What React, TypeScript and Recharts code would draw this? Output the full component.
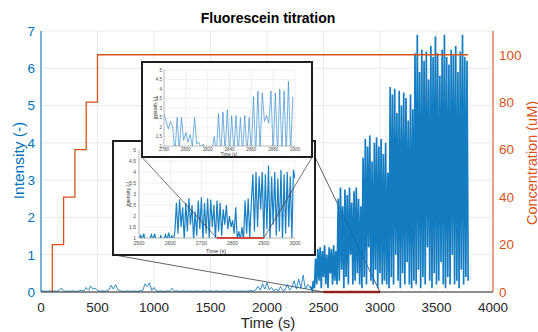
import React from 'react';
import { ComposedChart, LineChart, Line, XAxis, YAxis, CartesianGrid, ReferenceLine } from 'recharts';

const FONT = '"Liberation Sans", Arial, Helvetica, sans-serif';
const BLUE = '#0072BD';
const ORANGE = '#D95319';
const RED = '#E3261C';

// baseline before the dye arrives, one reading every 20 s from 0 s
const quietStart = 0;
const quietStep = 20;
const quietIntensity = [
  0.02, 0.03, 0.02, 0.02, 0.03,
  0.02, 0.03, 0.02, 0.04, 0.10,
  0.02, 0.03, 0.02, 0.02, 0.03,
  0.02, 0.02, 0.03, 0.05, 0.03,
  0.12, 0.05, 0.16, 0.08, 0.10,
  0.04, 0.02, 0.03, 0.02, 0.03,
  0.05, 0.18, 0.08, 0.20, 0.06,
  0.03, 0.02, 0.02, 0.03, 0.02,
  0.02, 0.03, 0.02, 0.02, 0.04,
  0.03, 0.22, 0.15, 0.25, 0.04,
  0.12, 0.03, 0.02, 0.03, 0.02,
  0.02, 0.03, 0.02, 0.10, 0.02,
  0.03, 0.02, 0.02, 0.03, 0.02,
  0.02, 0.03, 0.02, 0.02, 0.03,
  0.02, 0.02, 0.03, 0.02, 0.02,
  0.03, 0.02, 0.02, 0.03, 0.02,
  0.02, 0.03, 0.02, 0.02, 0.03,
  0.02, 0.03, 0.02, 0.02, 0.03,
  0.02, 0.02, 0.03, 0.04, 0.02,
  0.06, 0.15, 0.05, 0.22, 0.08,
  0.25, 0.06, 0.12, 0.03, 0.08,
  0.03, 0.15, 0.04, 0.06, 0.20,
  0.05, 0.12, 0.30, 0.08, 0.35,
  0.10, 0.45, 0.08, 0.20, 0.15,
];

// spiking part, one reading every 10 s from 2400 s
const activeStart = 2400;
const activeStep = 10;
const activeIntensity = [
  0.05, 0.3, 0.1, 0.9, 0.2, 1.15, 0.3, 1.2, 0.1, 1.1,
  0.4, 1.25, 0.2, 1.0, 0.1, 1.2, 0.5, 1.15, 0.2, 1.25,
  0.3, 1.1, 0.2, 2.5, 0.3, 2.8, 0.6, 2.3, 0.1, 2.75,
  0.4, 2.6, 0.2, 2.8, 1.0, 2.4, 0.2, 2.7, 0.3, 2.8,
  0.5, 2.5, 0.2, 2.3, 0.1, 3.6, 0.4, 4.1, 0.2, 3.9,
  1.2, 4.2, 0.3, 3.5, 0.2, 4.0, 0.6, 4.15, 0.1, 3.9,
  0.5, 4.1, 0.2, 3.7, 0.3, 4.0, 0.2, 3.2, 0.1, 5.5,
  0.4, 5.3, 0.2, 5.45, 1.0, 4.8, 0.3, 5.4, 0.1, 5.0,
  0.5, 5.35, 0.2, 5.2, 0.8, 4.6, 0.2, 5.3, 0.1, 4.9,
  0.3, 6.4, 0.2, 6.9, 0.6, 5.9, 0.1, 6.5, 0.4, 6.2,
  0.2, 6.45, 1.2, 5.7, 0.3, 6.6, 0.1, 6.3, 0.5, 6.85,
  0.2, 6.4, 0.3, 5.8, 0.8, 6.5, 0.2, 6.9, 0.1, 6.3,
  0.4, 6.1, 0.2, 6.5, 1.0, 6.35, 0.2, 6.6, 0.3, 5.9,
  0.1, 6.45, 0.6, 6.9, 0.2, 6.3, 0.4, 6.2, 0.3,
];

// concentration steps (each level holds up to the listed time)
const concTimes = [100, 200, 300, 400, 500, 3780];
const concValues = [0, 20, 40, 60, 80, 100];

// first zoom (2500-3000 s), every 5 s
const zoomAStart = 2500;
const zoomAStep = 5;
const zoomAIntensity = [
  0.8, 1.15, 0.9, 1.2, 0.9, 0.95, 0.9, 0.95, 1.15, 0.9,
  1.2, 0.9, 0.95, 0.9, 1.1, 0.9, 0.95, 1.15, 0.9, 1.25,
  0.9, 1.1, 0.9, 1.3, 2.6, 1.2, 2.75, 1.5, 2.4, 0.9,
  2.6, 1.3, 2.8, 1.6, 2.5, 0.9, 2.2, 1.1, 2.7, 1.4,
  2.85, 0.9, 2.6, 1.2, 2.8, 1.0, 2.75, 1.5, 2.5, 0.9,
  2.7, 1.3, 2.6, 1.1, 2.3, 1.6, 2.5, 1.4, 2.0, 1.5,
  1.8, 1.2, 2.4, 0.9, 1.3, 0.9, 1.5, 0.9, 2.7, 1.2,
  2.8, 1.0, 2.6, 3.9, 1.3, 4.0, 1.5, 3.8, 2.3, 4.0,
  1.0, 3.9, 1.4, 4.3, 0.9, 3.8, 1.6, 4.0, 1.1, 3.7,
  1.3, 4.1, 0.9, 3.9, 1.2, 4.0, 1.5, 3.8, 1.0, 4.1,
  3.7,
];

// second zoom (2780-2900 s), every 2 s
const zoomBStart = 2780;
const zoomBStep = 2;
const zoomBIntensity = [
  2.7, 2.3, 1.9, 2.3, 2.0, 0.6, 2.5, 0.7, 2.5, 1.3,
  1.7, 1.2, 1.6, 1.0, 2.5, 1.1, 1.2, 0.9, 1.1, 0.5,
  0.6, 0.5, 0.7, 1.5, 0.6, 2.7, 0.5, 2.8, 0.6, 2.9,
  0.5, 2.6, 0.7, 2.6, 0.5, 2.5, 0.6, 2.6, 0.5, 2.5,
  0.6, 3.6, 0.5, 3.9, 0.7, 3.8, 2.3, 2.6, 2.2, 3.9,
  0.6, 3.8, 0.5, 4.0, 0.7, 3.9, 0.5, 4.4, 0.6, 3.6,
];

const xTicks = [0, 500, 1000, 1500, 2000, 2500, 3000, 3500, 4000];
const leftTicks = [0, 1, 2, 3, 4, 5, 6, 7];
const rightTicks = [0, 20, 40, 60, 80, 100];
const zoomATicks = [2500, 2600, 2700, 2800, 2900, 3000];
const zoomBTicks = [2780, 2800, 2820, 2840, 2860, 2880, 2900];
const zoomYTicks = [1, 1.5, 2, 2.5, 3, 3.5, 4, 4.5, 5];

// zoomed spans and the guide lines towards the insets (data units)
const mainSpan = [2500, 3000];
const zoomASpan = [2750, 2900];
const mainGuides = [
  [{ x: 2500, y: 0 }, { x: 637, y: 1.0 }],
  [{ x: 3000, y: 0 }, { x: 2380, y: 3.9 }],
];
const zoomAGuides = [
  [{ x: 2750, y: 1 }, { x: 2509, y: 4.68 }],
  [{ x: 2900, y: 1 }, { x: 3055, y: 4.68 }],
];

const quietData = quietIntensity.map((v, i) => ({ t: quietStart + i * quietStep, v }));
const activeData = [
  quietData[quietData.length - 1],
  ...activeIntensity.map((v, i) => ({ t: activeStart + i * activeStep, v })),
];
const concData = concTimes.map((t, i) => ({ t, c: concValues[i] }));
const zoomAData = zoomAIntensity.map((v, i) => ({ t: zoomAStart + i * zoomAStep, v }));
const zoomBData = zoomBIntensity.map((v, i) => ({ t: zoomBStart + i * zoomBStep, v }));

const smallTick = (size: number) => ({ fill: '#4d4d4d', fontSize: size, fontFamily: FONT });

function Frame({ left, top, width, height }: { left: number; top: number; width: number; height: number }) {
  return (
    <div
      style={{
        position: 'absolute', left, top, width, height, boxSizing: 'border-box',
        border: '2px solid #1f1f1f', background: '#fff',
      }}
    />
  );
}

export default function App() {
  return (
    <div style={{ position: 'absolute', left: 0, top: 0, width: 538, height: 332, background: '#fff', overflow: 'hidden' }}>
      <ComposedChart width={538} height={332} margin={{ top: 31, right: 0, bottom: 0, left: 0 }}>
        <CartesianGrid yAxisId="left" stroke="#e9e9e9" />
        <XAxis
          dataKey="t"
          type="number"
          domain={[0, 4000]}
          ticks={xTicks}
          interval={0}
          height={40}
          tickLine={false}
          tickSize={8}
          axisLine={{ stroke: '#262626' }}
          tick={{ fill: '#262626', fontSize: 13.5, fontFamily: FONT }}
          allowDataOverflow
        />
        <YAxis
          yAxisId="left"
          domain={[0, 7]}
          ticks={leftTicks}
          interval={0}
          width={41}
          tickLine={false}
          tickSize={4}
          axisLine={{ stroke: BLUE }}
          tick={{ fill: BLUE, fontSize: 13.5, fontFamily: FONT }}
          allowDataOverflow
        />
        <YAxis
          yAxisId="right"
          orientation="right"
          domain={[0, 110]}
          ticks={rightTicks}
          interval={0}
          width={45}
          tickLine={false}
          tickSize={4}
          axisLine={{ stroke: ORANGE }}
          tick={{ fill: ORANGE, fontSize: 13.5, fontFamily: FONT }}
        />
        {mainGuides.map((seg, i) => (
          <ReferenceLine key={i} yAxisId="left" segment={seg} stroke="#3a3a3a" strokeWidth={0.8} ifOverflow="visible" />
        ))}
        <Line
          data={quietData}
          yAxisId="left"
          dataKey="v"
          type="linear"
          stroke={BLUE}
          strokeWidth={1}
          strokeOpacity={0.8}
          dot={false}
          isAnimationActive={false}
        />
        <Line
          data={activeData}
          yAxisId="left"
          dataKey="v"
          type="linear"
          stroke={BLUE}
          strokeWidth={1.7}
          strokeOpacity={0.92}
          dot={false}
          isAnimationActive={false}
        />
        <Line
          data={concData}
          yAxisId="right"
          dataKey="c"
          type="stepBefore"
          stroke={ORANGE}
          strokeWidth={1.3}
          dot={false}
          isAnimationActive={false}
        />
        <ReferenceLine
          yAxisId="left"
          segment={[{ x: mainSpan[0], y: 0 }, { x: mainSpan[1], y: 0 }]}
          stroke={RED}
          strokeWidth={2.5}
          ifOverflow="visible"
        />
      </ComposedChart>

      {/* first inset */}
      <Frame left={112} top={140} width={204} height={116} />
      <div style={{ position: 'absolute', left: 113, top: 140 }}>
        <LineChart width={202} height={115} data={zoomAData} margin={{ top: 10, right: 20, bottom: 0, left: 0 }}>
          <CartesianGrid stroke="#f0f0f0" />
          <XAxis
            dataKey="t"
            type="number"
            domain={[2500, 3000]}
            ticks={zoomATicks}
            interval={0}
            height={17}
            tickLine={false}
            tickSize={2}
            tickMargin={1}
            axisLine={{ stroke: '#9a9a9a', strokeWidth: 0.6 }}
            tick={smallTick(5)}
            allowDataOverflow
          />
          <YAxis
            domain={[1, 5]}
            ticks={zoomYTicks}
            interval={0}
            width={26}
            tickLine={false}
            tickSize={2}
            tickMargin={1}
            axisLine={{ stroke: '#9a9a9a', strokeWidth: 0.6 }}
            tick={smallTick(5)}
            allowDataOverflow
          />
          <Line dataKey="v" type="linear" stroke={BLUE} strokeWidth={1.2} strokeOpacity={0.9} dot={false} isAnimationActive={false} />
          <ReferenceLine
            segment={[{ x: zoomASpan[0], y: 1 }, { x: zoomASpan[1], y: 1 }]}
            stroke={RED}
            strokeWidth={2}
            ifOverflow="visible"
          />
          {zoomAGuides.map((seg, i) => (
            <ReferenceLine key={i} segment={seg} stroke="#3a3a3a" strokeWidth={0.7} ifOverflow="visible" />
          ))}
        </LineChart>
      </div>

      {/* second inset */}
      <Frame left={141} top={61} width={172} height={97} />
      <div style={{ position: 'absolute', left: 143, top: 63 }}>
        <LineChart width={168} height={93} data={zoomBData} margin={{ top: 7, right: 16, bottom: 0, left: 0 }}>
          <CartesianGrid stroke="#f0f0f0" />
          <XAxis
            dataKey="t"
            type="number"
            domain={[2780, 2900]}
            ticks={zoomBTicks}
            interval={0}
            height={10}
            tickLine={false}
            tickSize={1}
            tickMargin={1}
            axisLine={{ stroke: '#9a9a9a', strokeWidth: 0.6 }}
            tick={smallTick(4.5)}
            allowDataOverflow
          />
          <YAxis
            domain={[1, 5]}
            ticks={zoomYTicks}
            interval={0}
            width={21}
            tickLine={false}
            tickSize={1}
            tickMargin={1}
            axisLine={{ stroke: '#9a9a9a', strokeWidth: 0.6 }}
            tick={smallTick(4.5)}
            allowDataOverflow
          />
          <Line dataKey="v" type="linear" stroke="#3a8fd0" strokeWidth={0.7} dot={false} isAnimationActive={false} />
        </LineChart>
      </div>

      {/* titles and axis labels */}
      <svg width={538} height={332} style={{ position: 'absolute', left: 0, top: 0, pointerEvents: 'none' }}>
        <text x={268} y={23.3} textAnchor="middle" fontFamily={FONT} fontSize={14} fontWeight="bold" fill="#000">
          Fluorescein titration
        </text>
        <text x={268} y={327.5} textAnchor="middle" fontFamily={FONT} fontSize={15} fill="#262626">
          Time (s)
        </text>
        <text transform="translate(24,160.5) rotate(-90)" textAnchor="middle" fontFamily={FONT} fontSize={15.5} fill={BLUE}>
          Intensity (-)
        </text>
        <text transform="translate(536.5,163) rotate(-90)" textAnchor="middle" fontFamily={FONT} fontSize={14.5} fill={ORANGE}>
          Concentration (uM)
        </text>
        <text transform="translate(130,194) rotate(-90)" textAnchor="middle" fontFamily={FONT} fontSize={5} fill="#333">
          Intensity (-)
        </text>
        <text x={216} y={253} textAnchor="middle" fontFamily={FONT} fontSize={5.5} fill="#333">
          Time (s)
        </text>
        <text transform="translate(157,108) rotate(-90)" textAnchor="middle" fontFamily={FONT} fontSize={4.5} fill="#333">
          Intensity (-)
        </text>
        <text x={229} y={156} textAnchor="middle" fontFamily={FONT} fontSize={4.5} fill="#333">
          Time (s)
        </text>
      </svg>
    </div>
  );
}
